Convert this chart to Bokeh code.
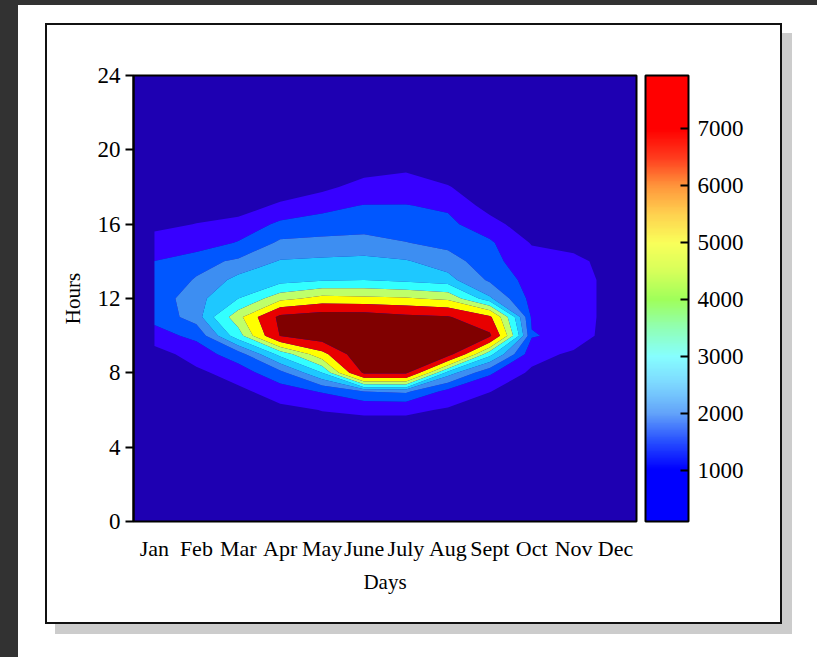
import numpy as np
from bokeh.plotting import figure
from bokeh.models import Range1d, FixedTicker, LinearColorMapper, ColorBar
from bokeh.layouts import column
from bokeh.embed import file_html
from bokeh.resources import INLINE

months = ["Jan", "Feb", "Mar", "Apr", "May", "June", "July", "Aug", "Sept", "Oct", "Nov", "Dec"]
hours = list(range(25))
hour_ticks = [0, 4, 8, 12, 16, 20, 24]
bar_ticks = [1000, 2000, 3000, 4000, 5000, 6000, 7000]

# hourly values (hour 0 .. 24) for each month
jan = [0, 0, 0, 0, 0, 0, 0, 0, 0, 100, 1000, 1350, 1400, 1380, 1210, 800, 300, 0, 0, 0, 0, 0, 0, 0, 0]
feb = [0, 0, 0, 0, 0, 0, 0, 0, 300, 900, 1330, 2100, 2200, 1850, 1600, 800, 520, 100, 0, 0, 0, 0, 0, 0, 0]
mar = [0, 0, 0, 0, 0, 0, 0, 300, 900, 1500, 3400, 4300, 3000, 2600, 1900, 1250, 700, 200, 0, 0, 0, 0, 0, 0, 0]
apr = [0, 0, 0, 0, 0, 0, 300, 900, 1600, 3200, 6850, 7100, 4300, 2700, 2450, 1900, 1350, 600, 100, 0, 0, 0, 0, 0, 0]
may = [0, 0, 0, 0, 0, 200, 520, 1250, 3000, 5200, 7600, 7500, 4900, 2900, 2500, 2000, 1400, 1050, 300, 0, 0, 0, 0, 0, 0]
jun = [0, 0, 0, 0, 0, 150, 650, 1800, 7000, 7900, 8000, 7500, 4800, 3000, 2550, 2050, 1500, 1220, 800, 200, 0, 0, 0, 0, 0]
jul = [0, 0, 0, 0, 0, 150, 650, 1900, 7000, 7800, 7900, 7100, 4700, 2800, 2450, 1820, 1450, 1220, 850, 400, 0, 0, 0, 0, 0]
aug = [0, 0, 0, 0, 0, 0, 420, 1000, 2700, 7300, 7600, 6900, 4400, 2600, 2100, 1600, 1350, 1100, 550, 100, 0, 0, 0, 0, 0]
sep = [0, 0, 0, 0, 0, 0, 0, 520, 1300, 3200, 7000, 5800, 2500, 1700, 1400, 1300, 800, 200, 0, 0, 0, 0, 0, 0, 0]
oct_ = [0, 0, 0, 0, 0, 0, 0, 0, 350, 800, 1250, 1100, 1000, 950, 800, 450, 0, 0, 0, 0, 0, 0, 0, 0, 0]
nov = [0, 0, 0, 0, 0, 0, 0, 0, 0, 350, 1000, 1100, 1100, 1100, 800, 100, 0, 0, 0, 0, 0, 0, 0, 0, 0]
dec = [0, 0, 0, 0, 0, 0, 0, 0, 0, 0, 0, 0, 0, 0, 0, 0, 0, 0, 0, 0, 0, 0, 0, 0, 0]

levels = [500, 1200, 1800, 2400, 3000, 3800, 4600, 5600, 6800, 9000]
band_colors = ["#3700FF", "#0057FF", "#3D8EF2", "#1EC8FF", "#33FFFF",
               "#BEFF6A", "#FFFF00", "#E80000", "#800000"]
BG = "#1E00B2"
FONT = "Liberation Serif"

z = np.array([jan, feb, mar, apr, may, jun, jul, aug, sep, oct_, nov, dec], dtype=float).T
xs = np.arange(len(months)) + 0.5

p = figure(width=733, height=597, x_range=Range1d(0, 12), y_range=Range1d(0, 24),
           output_backend="svg", toolbar_location=None,
           min_border_left=86, min_border_right=144, min_border_top=50, min_border_bottom=101)
p.margin = (25, 0, 0, 47)
p.styles = {"box-shadow": "0 0 0 2px #111111, 10px 10px 0 2px #cccccc"}
p.background_fill_color = BG
p.border_fill_color = "white"
p.outline_line_color = "black"
p.outline_line_width = 2
p.grid.visible = False

p.contour(x=xs, y=hours, z=z, levels=levels, fill_color=band_colors, line_color=None)

# axes
p.xaxis.ticker = FixedTicker(ticks=list(xs))
p.xaxis.major_label_overrides = {float(x): m for x, m in zip(xs, months)}
p.xaxis.major_tick_line_color = None
p.xaxis.minor_tick_line_color = None
p.xaxis.axis_line_color = None
p.xaxis.major_label_standoff = 8
p.xaxis.axis_label = "Days"
p.xaxis.axis_label_standoff = 6

p.yaxis.ticker = FixedTicker(ticks=hour_ticks)
p.yaxis.minor_tick_line_color = None
p.yaxis.major_tick_out = 8
p.yaxis.major_tick_in = 0
p.yaxis.major_tick_line_width = 2
p.yaxis.axis_line_width = 2
p.yaxis.major_label_standoff = 5
p.yaxis.axis_label = "Hours"
p.yaxis.axis_label_standoff = 10

for ax in (p.xaxis, p.yaxis):
    ax.major_label_text_font = FONT
    ax.axis_label_text_font = FONT
    ax.axis_label_text_font_style = "normal"
    ax.major_label_text_color = "black"
    ax.axis_label_text_color = "black"
p.xaxis.major_label_text_font_size = "22px"
p.yaxis.major_label_text_font_size = "23px"
p.xaxis.axis_label_text_font_size = "21px"
p.yaxis.axis_label_text_font_size = "21px"

# colour bar (jet-like)
stop_vals = [100, 1000, 1500, 2000, 2500, 3000, 3500, 4000, 4500, 5000, 5500, 6000, 6500, 7000, 7935]
stop_cols = [(0, 0, 255), (0, 0, 255), (40, 80, 255), (100, 165, 250), (125, 215, 255), (135, 255, 255),
             (145, 255, 180), (160, 255, 90), (215, 255, 90), (250, 255, 90), (255, 210, 80),
             (255, 150, 60), (255, 60, 30), (255, 0, 0), (255, 0, 0)]
grid_vals = np.linspace(stop_vals[0], stop_vals[-1], 256)
sc = np.array(stop_cols, dtype=float)
palette = []
for v in grid_vals:
    r = np.interp(v, stop_vals, sc[:, 0])
    g = np.interp(v, stop_vals, sc[:, 1])
    b = np.interp(v, stop_vals, sc[:, 2])
    palette.append("#%02x%02x%02x" % (int(r), int(g), int(b)))
mapper = LinearColorMapper(palette=palette, low=stop_vals[0], high=stop_vals[-1])
cb = ColorBar(color_mapper=mapper, ticker=FixedTicker(ticks=bar_ticks), width=43,
              padding=0, margin=0, location=(9, 0),
              bar_line_color="black", bar_line_width=2,
              major_tick_line_color="black", major_tick_line_width=2,
              major_tick_in=8, major_tick_out=0, minor_tick_line_color=None,
              label_standoff=9, major_label_text_font=FONT,
              major_label_text_font_size="23px", major_label_text_color="black",
              border_line_color=None, background_fill_color=None)
p.add_layout(cb, "right")

page = column(p, width=817, height=657,
              styles={"box-shadow": "inset 18px 5px 0 #323232", "background-color": "white"})

open("out.html", "w").write(file_html(page, INLINE))
